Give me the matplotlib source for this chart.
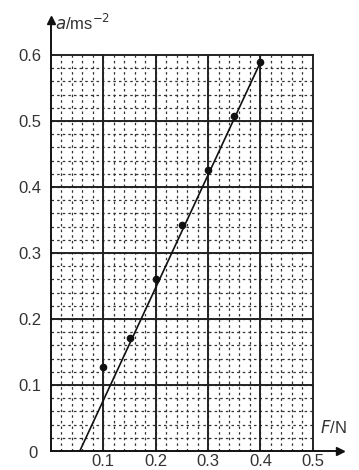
import matplotlib
matplotlib.use("Agg")
import matplotlib.pyplot as plt
import numpy as np

plt.rcParams['font.family'] = ['Liberation Sans', 'DejaVu Sans']

force = [0.10, 0.15, 0.20, 0.25, 0.30, 0.35, 0.40]
accel = [0.128, 0.171, 0.260, 0.342, 0.426, 0.508, 0.589]
fit_x = [0.055, 0.40]
fit_y = [0.0, 0.589]
x_ticks = [0.1, 0.2, 0.3, 0.4, 0.5]
y_ticks = [0.1, 0.2, 0.3, 0.4, 0.5, 0.6]

fig = plt.figure(figsize=(3.59, 4.70), dpi=100)
ax = fig.add_axes([51/359, 19/470, (340-51)/359, (451-20)/470])
ax.set_xlim(0, 0.552)
ax.set_ylim(0, 0.653)

# graph paper grid
for v in np.arange(0.02, 0.5, 0.02):
    ax.plot([v, v], [0, 0.6], color='#333333', lw=0.9, ls=(0, (2, 2.5)), zorder=1)
for v in np.arange(0.02, 0.6, 0.02):
    ax.plot([0, 0.5], [v, v], color='#333333', lw=0.9, ls=(0, (2, 2.5)), zorder=1)
for v in [0.1, 0.2, 0.3, 0.4, 0.5]:
    ax.plot([v, v], [0, 0.6], color='#222222', lw=1.4, zorder=2)
for v in [0.1, 0.2, 0.3, 0.4, 0.5, 0.6]:
    ax.plot([0, 0.5], [v, v], color='#222222', lw=1.4, zorder=2)

ax.plot(fit_x, fit_y, color='#111111', lw=1.2, zorder=3)
ax.plot(force, accel, 'o', color='#111111', ms=4.5, zorder=4)

for s in ['top', 'right']:
    ax.spines[s].set_visible(False)
for s in ['left', 'bottom']:
    ax.spines[s].set_linewidth(1.4)
    ax.spines[s].set_color('#111111')

ax.plot(1, 0, '>', color='#111111', ms=6, transform=ax.get_yaxis_transform(), clip_on=False)
ax.plot(0, 1, '^', color='#111111', ms=6, transform=ax.get_xaxis_transform(), clip_on=False)

ax.set_xticks(x_ticks)
ax.set_xticklabels([f"{t:.1f}" for t in x_ticks])
ax.set_yticks(y_ticks)
ax.set_yticklabels([f"{t:.1f}" for t in y_ticks])
ax.tick_params(length=0, labelsize=12, colors='#333333')
ax.tick_params(axis='x', pad=2)
ax.tick_params(axis='y', pad=7)

ax.text(-0.034, -0.004, '0', fontsize=12, ha='center', va='center', color='#333333')
ax.text(0.008, 0.648, r'$\mathit{a}$/ms$^{-2}$', fontsize=12, ha='left', va='center', color='#333333', clip_on=False)
ax.text(0.513, 0.035, r'$\mathit{F}$/N', fontsize=12, ha='left', va='center', color='#333333', clip_on=False)

fig.savefig('out.png', dpi=100)
